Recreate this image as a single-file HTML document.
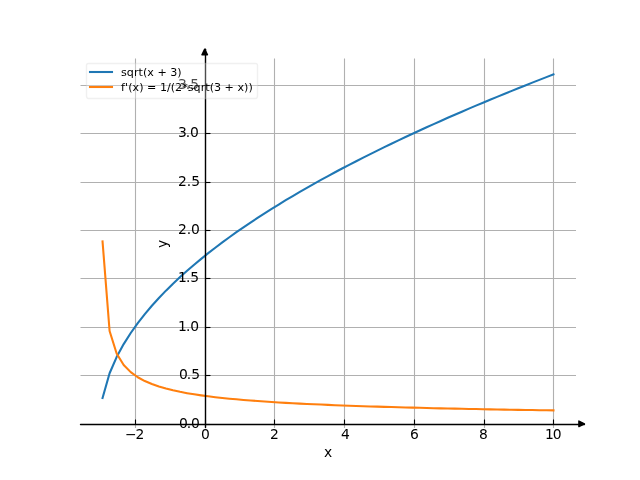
<!DOCTYPE html>
<html lang="en">
<head>
<meta charset="utf-8">
<title>sqrt(x + 3) and its derivative</title>
<style>
html,body{margin:0;padding:0;background:#ffffff;width:640px;height:480px;overflow:hidden}
svg{display:block}
text{font-family:"DejaVu Sans","Liberation Sans",sans-serif;fill:#000000}
</style>
</head>
<body>
<svg width="640" height="480" viewBox="0 0 640 480" role="img" aria-label="Plot of sqrt(x + 3) and its derivative">
<rect x="0" y="0" width="640" height="480" fill="#ffffff"/>
<g id="grid" stroke="#b0b0b0" stroke-width="1.111" fill="none" stroke-linecap="butt">
<line x1="135.5" y1="428" x2="135.5" y2="58.5"/>
<line x1="205.5" y1="428" x2="205.5" y2="58.5"/>
<line x1="274.5" y1="428" x2="274.5" y2="58.5"/>
<line x1="344.5" y1="428" x2="344.5" y2="58.5"/>
<line x1="414.5" y1="428" x2="414.5" y2="58.5"/>
<line x1="484.5" y1="428" x2="484.5" y2="58.5"/>
<line x1="553.5" y1="428" x2="553.5" y2="58.5"/>
<line x1="80.5" y1="424.5" x2="576" y2="424.5"/>
<line x1="80.5" y1="375.5" x2="576" y2="375.5"/>
<line x1="80.5" y1="327.5" x2="576" y2="327.5"/>
<line x1="80.5" y1="278.5" x2="576" y2="278.5"/>
<line x1="80.5" y1="230.5" x2="576" y2="230.5"/>
<line x1="80.5" y1="182.5" x2="576" y2="182.5"/>
<line x1="80.5" y1="133.5" x2="576" y2="133.5"/>
<line x1="80.5" y1="85.5" x2="576" y2="85.5"/>
</g>
<g id="curves" fill="none" stroke-width="2.083" stroke-linecap="square" stroke-linejoin="round">
<path d="M102.545 398.088 L109.591 373.236 L116.636 357.069 L123.682 344.116 L130.727 332.991 L137.773 323.088 L144.818 314.074 L151.864 305.746 L158.909 297.968 L165.955 290.643 L173 283.701 L180.045 277.087 L187.091 270.758 L194.136 264.681 L201.182 258.827 L208.227 253.174 L215.273 247.702 L222.318 242.396 L229.364 237.24 L236.409 232.223 L243.455 227.334 L250.5 222.563 L257.545 217.903 L264.591 213.347 L271.636 208.886 L278.682 204.517 L285.727 200.233 L292.773 196.029 L299.818 191.902 L306.864 187.846 L313.909 183.86 L320.955 179.938 L328 176.079 L335.045 172.278 L342.091 168.535 L349.136 164.845 L356.182 161.207 L363.227 157.619 L370.273 154.079 L377.318 150.584 L384.364 147.134 L391.409 143.726 L398.455 140.359 L405.5 137.031 L412.545 133.742 L419.591 130.49 L426.636 127.273 L433.682 124.091 L440.727 120.942 L447.773 117.826 L454.818 114.741 L461.864 111.687 L468.909 108.662 L475.955 105.666 L483 102.697 L490.045 99.757 L497.091 96.842 L504.136 93.953 L511.182 91.09 L518.227 88.25 L525.273 85.435 L532.318 82.643 L539.364 79.873 L546.409 77.126 L553.455 74.4" stroke="#1f77b4"/>
<path d="M102.545 241.464 L109.591 331.031 L116.636 353.502 L123.682 364.931 L130.727 372.144 L137.773 377.226 L144.818 381.054 L151.864 384.071 L158.909 386.529 L165.955 388.58 L173 390.327 L180.045 391.837 L187.091 393.161 L194.136 394.332 L201.182 395.379 L208.227 396.321 L215.273 397.176 L222.318 397.956 L229.364 398.671 L236.409 399.33 L243.455 399.94 L250.5 400.507 L257.545 401.035 L264.591 401.528 L271.636 401.991 L278.682 402.427 L285.727 402.837 L292.773 403.224 L299.818 403.591 L306.864 403.939 L313.909 404.27 L320.955 404.584 L328 404.884 L335.045 405.171 L342.091 405.444 L349.136 405.707 L356.182 405.958 L363.227 406.199 L370.273 406.43 L377.318 406.653 L384.364 406.867 L391.409 407.074 L398.455 407.273 L405.5 407.465 L412.545 407.651 L419.591 407.83 L426.636 408.004 L433.682 408.172 L440.727 408.335 L447.773 408.493 L454.818 408.646 L461.864 408.795 L468.909 408.939 L475.955 409.079 L483 409.216 L490.045 409.348 L497.091 409.478 L504.136 409.603 L511.182 409.726 L518.227 409.845 L525.273 409.962 L532.318 410.075 L539.364 410.186 L546.409 410.294 L553.455 410.4" stroke="#ff7f0e"/>
</g>
<g id="ticks" stroke="#000000" stroke-width="1.111" fill="none" stroke-linecap="butt">
<line x1="135.5" y1="424.5" x2="135.5" y2="419.5"/>
<line x1="205.5" y1="424.5" x2="205.5" y2="419.5"/>
<line x1="274.5" y1="424.5" x2="274.5" y2="419.5"/>
<line x1="344.5" y1="424.5" x2="344.5" y2="419.5"/>
<line x1="414.5" y1="424.5" x2="414.5" y2="419.5"/>
<line x1="484.5" y1="424.5" x2="484.5" y2="419.5"/>
<line x1="553.5" y1="424.5" x2="553.5" y2="419.5"/>
<line x1="205.5" y1="424.5" x2="210.5" y2="424.5"/>
<line x1="205.5" y1="375.5" x2="210.5" y2="375.5"/>
<line x1="205.5" y1="327.5" x2="210.5" y2="327.5"/>
<line x1="205.5" y1="278.5" x2="210.5" y2="278.5"/>
<line x1="205.5" y1="230.5" x2="210.5" y2="230.5"/>
<line x1="205.5" y1="182.5" x2="210.5" y2="182.5"/>
<line x1="205.5" y1="133.5" x2="210.5" y2="133.5"/>
<line x1="205.5" y1="85.5" x2="210.5" y2="85.5"/>
</g>
<g id="axes" stroke="#000000" fill="#000000" stroke-width="1.389" stroke-linecap="round" stroke-linejoin="round">
<path d="M80.5 424.5 L584.447 424.5" fill="none"/>
<path d="M578.892 421.062 L584.447 423.84 L578.892 426.618 Z"/>
<path d="M205.5 427.5 L205.5 49.153" fill="none"/>
<path d="M201.93 54.708 L204.707 49.153 L207.485 54.708 Z"/>
</g>
<g id="text-axis">
<text id="xt-2" x="124.875 135.5" y="438.5" font-size="13.889">−2</text>
<text id="xt0" x="201" y="438.5" font-size="13.889">0</text>
<text id="xt2" x="270" y="438.5" font-size="13.889">2</text>
<text id="xt4" x="341" y="438.5" font-size="13.889">4</text>
<text id="xt6" x="410" y="438.5" font-size="13.889">6</text>
<text id="xt8" x="479" y="438.5" font-size="13.889">8</text>
<text id="xt10" x="544.875 552.75" y="438.5" font-size="13.889">10</text>
<text id="yt0" x="178.875 186.625 191" y="427.5" font-size="13.889">0.0</text>
<text id="yt0.5" x="179 186.75 191.125" y="378.5" font-size="13.889">0.5</text>
<text id="yt1" x="178 185.875 190.25" y="330.5" font-size="13.889">1.0</text>
<text id="yt1.5" x="178 185.875 190.25" y="281.5" font-size="13.889">1.5</text>
<text id="yt2" x="177.875 186.625 191" y="233.5" font-size="13.889">2.0</text>
<text id="yt2.5" x="178 186.75 191.125" y="185.5" font-size="13.889">2.5</text>
<text id="yt3" x="177.875 185.625 190" y="136.5" font-size="13.889">3.0</text>
<text id="yt3.5" x="178 185.75 190.125" y="88.5" font-size="13.889">3.5</text>
<text id="xlabel" x="324" y="456.7" font-size="13.889">x</text>
<text id="ylabel" x="166.8" y="248" font-size="13.889" transform="rotate(-90 166.8 248)">y</text>
</g>
<g id="legend">
<path d="M88.5 98.5 L255.5 98.5 Q257.5 98.5 257.5 95.5 L257.5 65.5 Q257.5 63.5 255.5 63.5 L88.5 63.5 Q86.5 63.5 86.5 65.5 L86.5 95.5 Q86.5 98.5 88.5 98.5 Z" fill="#ffffff" fill-opacity="0.3" stroke="#cccccc" stroke-opacity="0.3" stroke-width="1.389" stroke-linejoin="miter"/>
<path d="M90 72 L112 72" fill="none" stroke="#1f77b4" stroke-width="2.083" stroke-linecap="square"/>
<path d="M90 87 L112 87" fill="none" stroke="#ff7f0e" stroke-width="2.083" stroke-linecap="square"/>
<g id="text-legend">
<text id="leg1" x="121 126.75 133.875 138.5 142.875 147.25 153.875 157.375 166.75 170.25 177.25" y="75.54" font-size="11.111">sqrt(x + 3)</text>
<text id="leg2" x="121 125 128.125 132.5 139.125 143.5 147 156.375 159.875 166.875 170.625 175 182.125 187.75 193.5 200.625 205.25 209.625 214 221 224.5 233.875 237.375 244 248.375" y="90.62" font-size="11.111">f'(x) = 1/(2*sqrt(3 + x))</text>
</g>
</g>
</svg>
</body>
</html>
